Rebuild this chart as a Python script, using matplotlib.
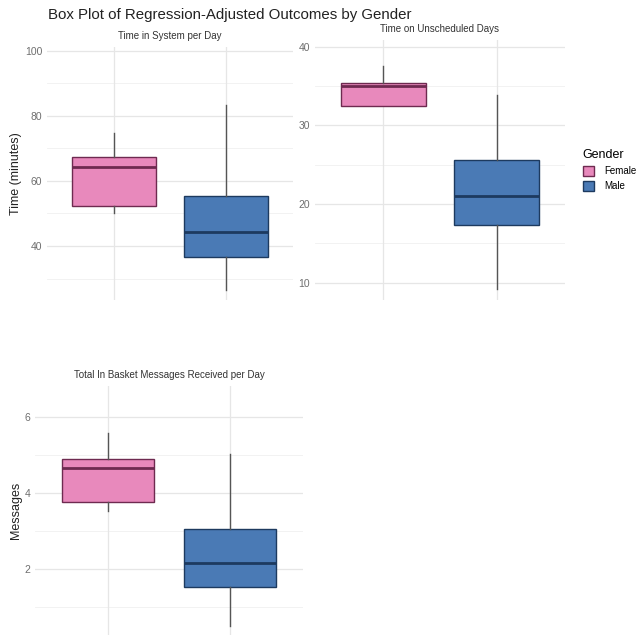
import matplotlib
matplotlib.use("Agg")
import matplotlib.pyplot as plt
from matplotlib.patches import Patch

plt.rcParams['font.family'] = ['Liberation Sans', 'DejaVu Sans']

genders = ["Female", "Male"]
fills = ["#E889BC", "#4A7AB5"]
edges = ["#6E2A50", "#1D3A5F"]

# box stats per gender: lower whisker, q1, median, q3, upper whisker
time_system = [[50.3, 52.3, 64.4, 67.4, 74.7],
               [26.5, 36.7, 44.3, 55.4, 83.4]]
time_unsched = [[32.4, 32.4, 35.0, 35.4, 37.5],
                [9.2, 17.3, 21.0, 25.6, 33.8]]
messages = [[3.53, 3.76, 4.67, 4.89, 5.6],
            [0.49, 1.51, 2.14, 3.05, 5.02]]

panels = [
    dict(title="Time in System per Day", ylabel="Time (minutes)", stats=time_system,
         rect=[47, 47, 246, 253], ylim=(23.4, 101.2), major=[40, 60, 80, 100], minor=[30, 50, 70, 90]),
    dict(title="Time on Unscheduled Days", ylabel="", stats=time_unsched,
         rect=[315, 40, 250, 260], ylim=(7.8, 40.85), major=[10, 20, 30, 40], minor=[15, 25, 35]),
    dict(title="Total In Basket Messages Received per Day", ylabel="Messages", stats=messages,
         rect=[35, 386, 268, 249], ylim=(0.25, 6.83), major=[2, 4, 6], minor=[1, 3, 5]),
]

W, H = 641, 636
fig = plt.figure(figsize=(W / 100, H / 100), dpi=100)

for p in panels:
    x, y, w, h = p["rect"]
    ax = fig.add_axes([x / W, 1 - (y + h) / H, w / W, h / H])
    for m in p["minor"]:
        ax.axhline(m, color="#F0F0F0", lw=0.6, zorder=0)
    for m in p["major"]:
        ax.axhline(m, color="#E6E6E6", lw=0.9, zorder=0)
    for pos in (1, 2):
        ax.axvline(pos, color="#E6E6E6", lw=0.9, zorder=0)

    for i, s in enumerate(p["stats"]):
        st = dict(whislo=s[0], q1=s[1], med=s[2], q3=s[3], whishi=s[4], fliers=[])
        ax.bxp([st], positions=[i + 1], widths=0.75, patch_artist=True, showcaps=False,
               boxprops=dict(facecolor=fills[i], edgecolor=edges[i], lw=1.0),
               medianprops=dict(color=edges[i], lw=2.0),
               whiskerprops=dict(color="#555555", lw=1.0), zorder=2)

    ax.set_xlim(0.4, 2.6)
    ax.set_ylim(*p["ylim"])
    ax.set_xticks([])
    ax.set_yticks(p["major"])
    ax.tick_params(axis="y", length=0, labelsize=7.5, labelcolor="#6E6E6E", pad=3.5)
    for sp in ax.spines.values():
        sp.set_visible(False)
    ax.set_title(p["title"], fontsize=7, color="#333333", pad=6)
    if p["ylabel"]:
        ax.set_ylabel(p["ylabel"], fontsize=9, color="#222222")
        ax.yaxis.set_label_coords((22 - x) / w, 0.5)

fig.text(48 / W, 1 - 15 / H, "Box Plot of Regression-Adjusted Outcomes by Gender",
         fontsize=10.8, color="#222222", va="center", ha="left")

handles = [Patch(facecolor=fills[i], edgecolor=edges[i], label=genders[i]) for i in range(2)]
leg = fig.legend(handles=handles, title="Gender", loc="upper left",
                 bbox_to_anchor=(574 / W, 1 - 140 / H), frameon=False,
                 fontsize=7, title_fontsize=9, handlelength=1.2, handleheight=1.2,
                 handletextpad=1.0, labelspacing=0.5)
leg._legend_box.align = "left"

fig.savefig("out.png", dpi=100)
